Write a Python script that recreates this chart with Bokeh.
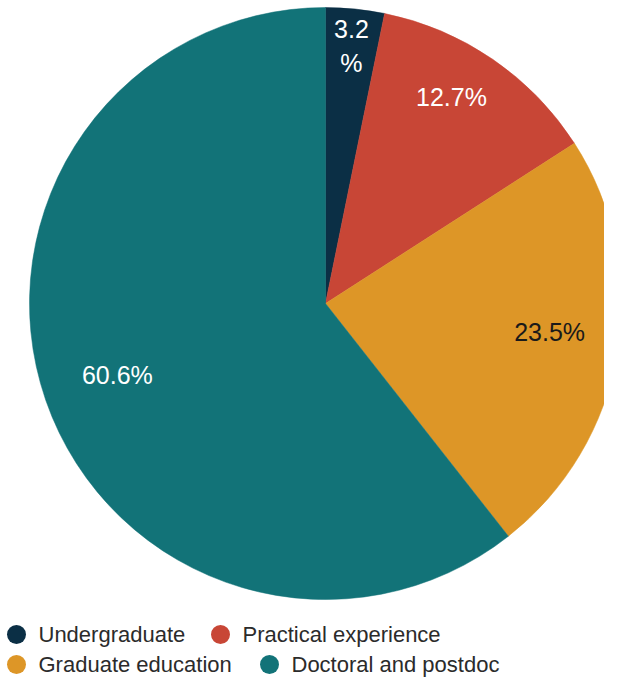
import math
from bokeh.plotting import figure
from bokeh.models import ColumnDataSource, Range1d
from bokeh.core.properties import value
from bokeh.embed import file_html
from bokeh.resources import INLINE

# ---- data ----
categories = ["Undergraduate", "Practical experience", "Graduate education", "Doctoral and postdoc"]
shares = [3.2, 12.7, 23.5, 60.6]
labels = ["3.2\n%", "12.7%", "23.5%", "60.6%"]
colors = ["#0B2F45", "#C84636", "#DD9627", "#127378"]
label_colors = ["#ffffff", "#ffffff", "#1a1a1a", "#ffffff"]

# ---- layout (image pixel coordinates, y downward) ----
W, H = 604, 680
CX, CY, R = 325, 303, 296
label_rfrac = [0.875, 0.817, 0.763, 0.743]
label_dshift = [0.0, -3.0, -2.4, 0.2]
legend_pos = [(16, 634), (220, 634), (16, 664), (269, 664)]
FONT = "Liberation Sans"

total = sum(shares)
starts, ends, lx, ly = [], [], [], []
cum = 0.0
for i, s in enumerate(shares):
    a0 = cum / total * 360.0
    cum += s
    a1 = cum / total * 360.0
    starts.append(math.radians(90 - a0))
    ends.append(math.radians(90 - a1))
    mid = math.radians((a0 + a1) / 2 + label_dshift[i])
    r = R * label_rfrac[i]
    lx.append(CX + r * math.sin(mid))
    ly.append(-(CY - r * math.cos(mid)))

src = ColumnDataSource(dict(cat=categories, start=starts, end=ends, color=colors,
                            lx=lx, ly=ly, label=labels, lcol=label_colors,
                            gx=[p[0] for p in legend_pos], gy=[-p[1] for p in legend_pos],
                            tx=[p[0] + 22 for p in legend_pos]))

p = figure(width=W, height=H, output_backend="svg", toolbar_location=None,
           x_range=Range1d(0, W), y_range=Range1d(-H, 0),
           min_border=0, outline_line_color=None,
           background_fill_color="white", border_fill_color="white")
p.axis.visible = False
p.grid.visible = False

p.wedge(x=CX, y=-CY, radius=R, start_angle="start", end_angle="end", direction="clock",
        fill_color="color", line_color="color", line_width=0.5, source=src)

p.text(x="lx", y="ly", text="label", text_color="lcol", text_font=value(FONT),
       text_font_size="25px", text_align="center", text_baseline="middle",
       text_line_height=1.2, source=src)

p.scatter(x="gx", y="gy", size=19, marker="circle", fill_color="color",
          line_color=None, source=src)
p.text(x="tx", y="gy", text="cat", text_color="#2b2b2b", text_font=value(FONT),
       text_font_size="22px", text_align="left", text_baseline="middle", source=src)

open("out.html", "w").write(file_html(p, INLINE))
